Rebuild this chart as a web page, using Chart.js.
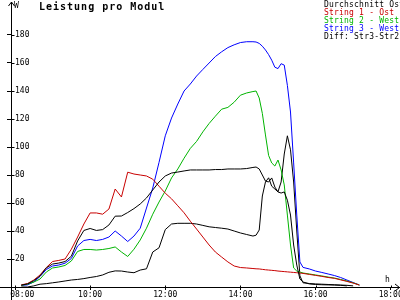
<!DOCTYPE html>
<html>
<head>
<meta charset="utf-8">
<script src="https://cdn.jsdelivr.net/npm/chart.js@4"></script>
<style>
    html, body { margin: 0; padding: 0; background: #fff; }
    #wrap { width: 400px; height: 300px; }
</style>
</head>
<body>
<div id="wrap"><canvas id="myChart" width="400" height="300"></canvas></div>
<script>
const chartTitle = "Leistung pro Modul";

const times = [
    "08:10", "08:20", "08:30", "08:40", "08:50", "09:00", "09:10", "09:20", "09:30", "09:40", "09:50",
    "10:00", "10:10", "10:20", "10:30", "10:40", "10:50", "11:00", "11:10", "11:20", "11:30", "11:40", "11:50",
    "12:00", "12:10", "12:20", "12:30", "12:40", "12:50", "13:00", "13:10", "13:20", "13:30", "13:40", "13:50",
    "14:00", "14:10", "14:20", "14:25", "14:30", "14:35", "14:40", "14:45", "14:50", "14:55",
    "15:00", "15:05", "15:10", "15:15", "15:20", "15:25", "15:30", "15:35", "15:40", "15:50",
    "16:00", "16:10", "16:20", "16:30", "16:40", "16:50", "17:00", "17:10"
];

const average = [
    1.3, 2.2, 4.5, 7.9, 13.6, 16.4, 17.1, 18.2, 22, 32.9, 40.4,
    41.8, 40.4, 41, 44.3, 50.6, 50.7, 53.2, 56, 59.3, 63.6, 69.3, 75,
    79.3, 81.4, 82.1, 82.9, 83.6, 83.6, 83.6, 83.6, 83.9, 83.9, 84.3, 84.3,
    84.3, 84.6, 85.4, 85.7, 84.3, 80, 75.7, 75, 77.9, 71.4,
    67.9, 67.1, 67.9, 62, 51.4, 30, 15.7, 5.7, 3.6, 2.2,
    1.8, 1.6, 1.5, 1.4, 1.2, 0.8, null, null
];

const string1 = [
    1.5, 2.5, 5, 8.6, 13.9, 18.2, 19, 20, 27, 35.7, 45,
    52.9, 52.9, 52, 55.7, 70, 64.3, 82, 80.7, 80, 79.3, 77, 72,
    67, 63, 58, 53, 47, 41.4, 35.7, 30, 25, 21.4, 17.9, 15,
    13.9, 13.6, 13.2, 13, 12.9, 12.6, 12.3, 12.1, 11.9, 11.7,
    11.4, 11.2, 11, 10.8, 10.6, 10.4, 10.2, 10, 9.7, 9,
    8.3, 7.6, 6.8, 6.2, 5.1, 4, 2.8, 1.4
];

const string2 = [
    1.2, 2, 3.5, 5.7, 10.7, 13.6, 14.3, 15.4, 18.6, 25.4, 26.8,
    26.8, 26.4, 26.8, 27.5, 28.6, 25, 21.8, 27, 33.6, 42, 52, 60.7,
    68.6, 77.9, 84.3, 92, 99, 104, 110.8, 116.8, 122, 127, 128.3, 132,
    137, 138.6, 139.6, 140, 135, 124, 108.6, 94, 88.6, 86.4,
    90.7, 83.6, 72.9, 51.4, 30, 13.6, 11.4, 10.7, 10, 9.3,
    8.6, 7.9, 7.1, 6.4, 5.4, 4.3, 3, 1.4
];

const string3 = [
    1.2, 1.5, 3.6, 7.5, 12.5, 15, 15.7, 17, 20.4, 29.3, 33.2,
    34, 33.2, 34, 35.7, 40, 36.4, 32.5, 36.4, 42, 56.4, 70.7, 89,
    108, 120.7, 130.7, 140, 145, 150.7, 155.4, 160, 164.6, 168, 171, 173,
    174.6, 175.2, 175.2, 175, 174, 172, 169.3, 166, 162, 157,
    156, 159.5, 158.5, 144, 125, 88.6, 51.4, 17.9, 14, 12.9,
    11.4, 10.4, 9.3, 8.2, 6.8, 5, 3.2, 1.4
];

const diffStr3Str2 = [
    0, 0, 0.8, 2, 2.4, 3, 3.6, 4.3, 5, 5.4, 6,
    6.8, 7.5, 8.6, 10.5, 11.5, 11.4, 10.7, 10.2, 12.1, 13, 25, 28,
    41, 45, 45.5, 45.5, 45.5, 45, 44, 43, 42.5, 42, 41.4, 40,
    38.6, 37.5, 36.4, 37, 40.7, 65, 75, 78, 72, 70,
    68, 75, 95, 108, 98, 75, 40, 8, 3, 2.5,
    2.2, 2, 1.8, 1.6, 1.4, 1.2, 0.8, null
];

const seriesNames = ["Durchschnitt Ost/West", "String 1 - Ost", "String 2 - West", "String 3 - West", "Diff: Str3-Str2"];
const seriesColors = ["#000000", "#c80000", "#00b400", "#0000ff", "#000000"];
const xTickHours = [8, 10, 12, 14, 16, 18];
const yTickValues = [20, 40, 60, 80, 100, 120, 140, 160, 180];

function toHours(t) {
    const [h, m] = t.split(":").map(Number);
    return h + m / 60;
}

function points(values) {
    return times.map((t, i) => ({ x: toHours(t), y: values[i] }));
}

const allSeries = [average, string1, string2, string3, diffStr3Str2];

const decorations = {
    id: "decorations",
    afterDraw(chart) {
        const ctx = chart.ctx;
        const xs = chart.scales.x;
        const ys = chart.scales.y;
        const ax = Math.round(chart.chartArea.left) + 0.5;
        const ay = Math.round(ys.getPixelForValue(0)) + 0.5;
        const top = Math.round(chart.chartArea.top);

        ctx.save();
        ctx.strokeStyle = "#000";
        ctx.lineWidth = 1;
        ctx.beginPath();
        // axis extensions
        ctx.moveTo(0, ay); ctx.lineTo(ax, ay);
        ctx.moveTo(ax, 2); ctx.lineTo(ax, top);
        ctx.moveTo(ax, ay); ctx.lineTo(ax, 300);
        // arrow heads
        ctx.moveTo(ax - 3, 6); ctx.lineTo(ax, 2); ctx.lineTo(ax + 3, 6);
        ctx.moveTo(395, ay - 3.5); ctx.lineTo(399.5, ay); ctx.lineTo(395, ay + 3.5);
        // inner part of the tick marks
        ys.ticks.forEach(t => {
            const py = Math.round(ys.getPixelForValue(t.value)) + 0.5;
            ctx.moveTo(ax, py); ctx.lineTo(ax + 3, py);
        });
        xs.ticks.forEach(t => {
            const px = Math.round(xs.getPixelForValue(t.value)) + 0.5;
            ctx.moveTo(px, ay); ctx.lineTo(px, ay - 2);
        });
        ctx.stroke();

        ctx.fillStyle = "#000";
        ctx.textBaseline = "alphabetic";
        ctx.textAlign = "left";
        ctx.font = "bold 10px 'DejaVu Sans Mono'";
        ctx.letterSpacing = "1px";
        ctx.fillText(chartTitle, 39, 10);

        ctx.letterSpacing = "0px";
        ctx.font = "8px 'DejaVu Sans Mono'";
        ctx.fillText("W", 14, 8);
        ctx.fillText("h", 385, 282);

        // legend: coloured names, top right
        ctx.font = "8px 'DejaVu Sans Mono'";
        ctx.letterSpacing = "0.2px";
        chart.data.datasets.forEach((ds, i) => {
            ctx.fillStyle = ds.borderColor;
            ctx.fillText(ds.label, 324, 7 + i * 7.9);
        });
        ctx.restore();
    }
};

const ctx = document.getElementById("myChart").getContext("2d");

new Chart(ctx, {
    type: "line",
    data: {
        datasets: allSeries.map((values, i) => ({
            label: seriesNames[i],
            data: points(values),
            borderColor: seriesColors[i],
            backgroundColor: seriesColors[i],
            borderWidth: 1,
            pointRadius: 0,
            tension: 0,
            fill: false,
            spanGaps: false
        }))
    },
    options: {
        responsive: false,
        animation: false,
        devicePixelRatio: 1,
        layout: { padding: { top: 7, left: 0, right: 0, bottom: 0 } },
        plugins: {
            legend: { display: false },
            title: { display: false },
            tooltip: { enabled: false }
        },
        scales: {
            x: {
                type: "linear",
                min: 8 - 4 / 37.57,
                max: 8 + 385 / 37.57,
                afterBuildTicks: s => { s.ticks = xTickHours.map(v => ({ value: v })); },
                afterFit: s => { s.height = 13; s.paddingLeft = 0; s.paddingRight = 0; },
                ticks: {
                    autoSkip: false,
                    maxRotation: 0,
                    padding: 0,
                    color: "#000",
                    font: { family: "'DejaVu Sans Mono'", size: 8 },
                    callback: v => (v === 8 ? "   " : "") + String(v).padStart(2, "0") + ":00"
                },
                grid: { drawOnChartArea: false, drawTicks: true, tickLength: 3, color: "#000" },
                border: { display: true, color: "#000", width: 1 }
            },
            y: {
                min: 0,
                max: 200,
                afterBuildTicks: s => { s.ticks = yTickValues.map(v => ({ value: v })); },
                afterFit: s => { s.width = 11; s.paddingTop = 0; s.paddingBottom = 0; },
                ticks: {
                    mirror: true,
                    padding: 4,
                    color: "#000",
                    font: { family: "'DejaVu Sans Mono'", size: 8 }
                },
                grid: { drawOnChartArea: false, drawTicks: true, tickLength: 4, color: "#000" },
                border: { display: true, color: "#000", width: 1 }
            }
        }
    },
    plugins: [decorations]
});
</script>
</body>
</html>
